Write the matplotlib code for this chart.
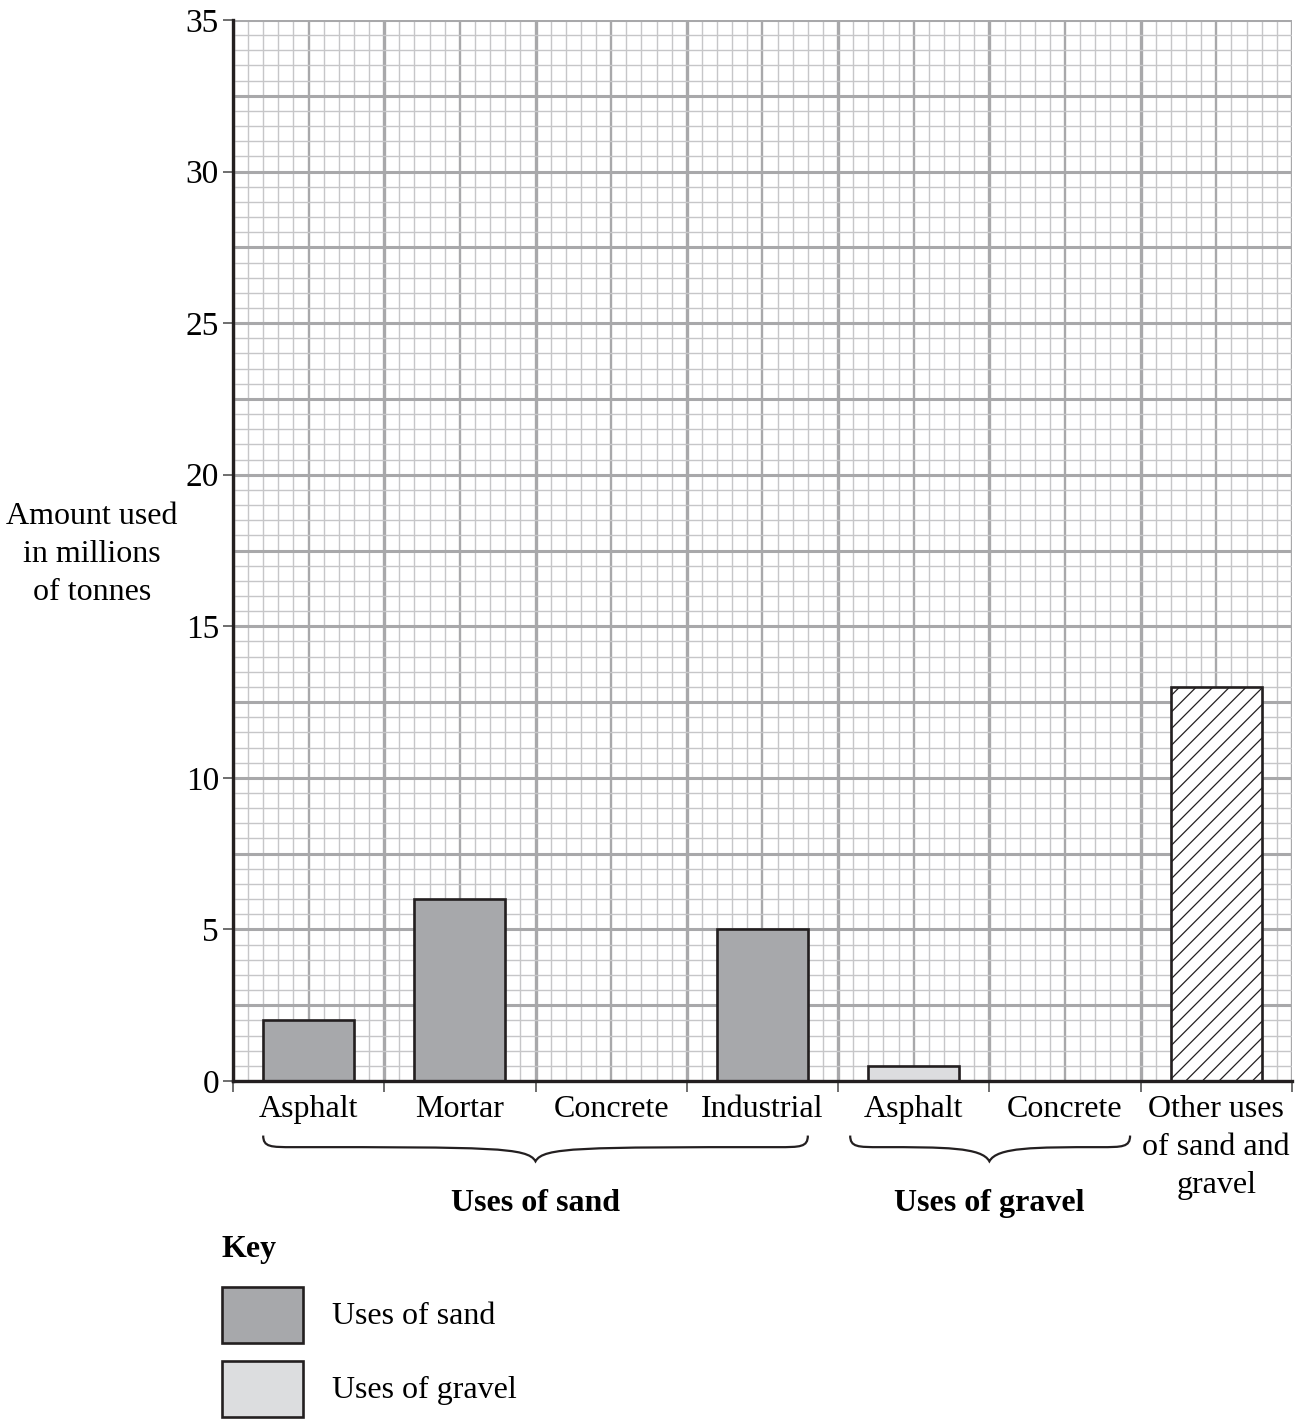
import matplotlib.pyplot as plt
import numpy as np
from matplotlib.path import Path
from matplotlib.patches import PathPatch, Rectangle

plt.rcParams['font.family'] = ['Liberation Serif', 'DejaVu Serif']
plt.rcParams['hatch.linewidth'] = 0.9

# Data
categories = ['Asphalt', 'Mortar', 'Concrete', 'Industrial',
              'Asphalt', 'Concrete', 'Other uses\nof sand and\ngravel']
amounts = [2, 6, 0, 5, 0.5, 0, 13]
groups = ['sand', 'sand', 'sand', 'sand', 'gravel', 'gravel', 'other']

sand_color = '#a7a8ab'
gravel_color = '#dcdddf'
grid_minor = '#c6c6c8'
grid_major = '#a8a8aa'

fig = plt.figure(figsize=(13.05, 14.19), dpi=100)
ax = fig.add_axes([0.1785, 0.2382, 0.8115, 0.7477])

ax.set_xlim(0, 7)
ax.set_ylim(0, 35)

# graph-paper grid
for xv in np.arange(0, 7.001, 0.1):
    k = int(round(xv * 10))
    if k % 10 == 0:
        lw, c = 2.4, grid_major
    elif k % 5 == 0:
        lw, c = 1.7, grid_major
    else:
        lw, c = 1.0, grid_minor
    ax.axvline(xv, color=c, lw=lw, zorder=0)
for yv in np.arange(0, 35.001, 0.5):
    k = int(round(yv * 2))
    if k % 5 == 0:
        lw, c = 2.2, grid_major
    else:
        lw, c = 1.0, grid_minor
    ax.axhline(yv, color=c, lw=lw, zorder=0)

# bars
x = np.arange(len(categories)) + 0.5
for xi, val, g in zip(x, amounts, groups):
    if val == 0:
        continue
    if g == 'sand':
        ax.bar(xi, val, width=0.6, color=sand_color, edgecolor='#231f20', lw=1.9, zorder=3)
    elif g == 'gravel':
        ax.bar(xi, val, width=0.6, color=gravel_color, edgecolor='#231f20', lw=1.9, zorder=3)
    else:
        ax.bar(xi, val, width=0.6, color='white', edgecolor='#231f20', lw=1.9,
               hatch='//', zorder=3)

# axes styling
for s in ['top', 'right']:
    ax.spines[s].set_visible(False)
for s in ['left', 'bottom']:
    ax.spines[s].set_linewidth(2.4)
    ax.spines[s].set_color('#231f20')
    ax.spines[s].set_zorder(5)

ax.set_yticks(np.arange(0, 36, 5))
ax.tick_params(axis='y', length=7, width=1.2, color='#555555', labelsize=24, pad=3)
ax.set_xticks(np.arange(0, 8, 1))
ax.set_xticklabels([])
ax.tick_params(axis='x', length=8, width=1.2, color='#555555')

for xi, lab in zip(x, categories):
    ax.text(xi, -0.45, lab, ha='center', va='top', fontsize=23,
            linespacing=1.42, clip_on=False)

ax.text(-0.93, 17.36, 'Amount used\nin millions\nof tonnes', ha='center', va='center',
        fontsize=23, linespacing=1.42)


# curly braces below the categories
def brace(x0, x1, xm, ytop, ybot):
    ymid = ytop - (ytop - ybot) * 0.45
    verts = [(x0, ytop),
             (x0, ymid), (x0 + 0.05, ymid), (x0 + 0.2, ymid),
             (xm - 0.3, ymid), (xm - 0.05, ymid), (xm, ybot),
             (xm + 0.05, ymid), (xm + 0.3, ymid), (x1 - 0.2, ymid),
             (x1 - 0.05, ymid), (x1, ymid), (x1, ytop)]
    codes = [Path.MOVETO] + [Path.CURVE4] * 12
    ax.add_patch(PathPatch(Path(verts, codes), fill=False, lw=1.6,
                           color='#231f20', clip_on=False))


brace(0.2, 3.8, 2.0, -1.8, -2.65)
brace(4.08, 5.93, 5.0, -1.8, -2.65)

ax.text(2.0, -3.55, 'Uses of sand', ha='center', va='top', fontsize=23,
        fontweight='bold')
ax.text(5.0, -3.55, 'Uses of gravel', ha='center', va='top', fontsize=23,
        fontweight='bold')

# key
fig.text(222 / 1305, 1 - 1250 / 1419, 'Key', ha='left', va='center', fontsize=23,
         fontweight='bold')
fig.patches.append(Rectangle((222 / 1305, 1 - 1343 / 1419), 81 / 1305, 56 / 1419,
                             transform=fig.transFigure, facecolor=sand_color,
                             edgecolor='#231f20', lw=1.9))
fig.patches.append(Rectangle((222 / 1305, 1 - 1417 / 1419), 81 / 1305, 56 / 1419,
                             transform=fig.transFigure, facecolor=gravel_color,
                             edgecolor='#231f20', lw=1.9))
fig.text(332 / 1305, 1 - 1316 / 1419, 'Uses of sand', ha='left', va='center',
         fontsize=23)
fig.text(332 / 1305, 1 - 1390 / 1419, 'Uses of gravel', ha='left', va='center',
         fontsize=23)

plt.savefig('out.png', dpi=100)
